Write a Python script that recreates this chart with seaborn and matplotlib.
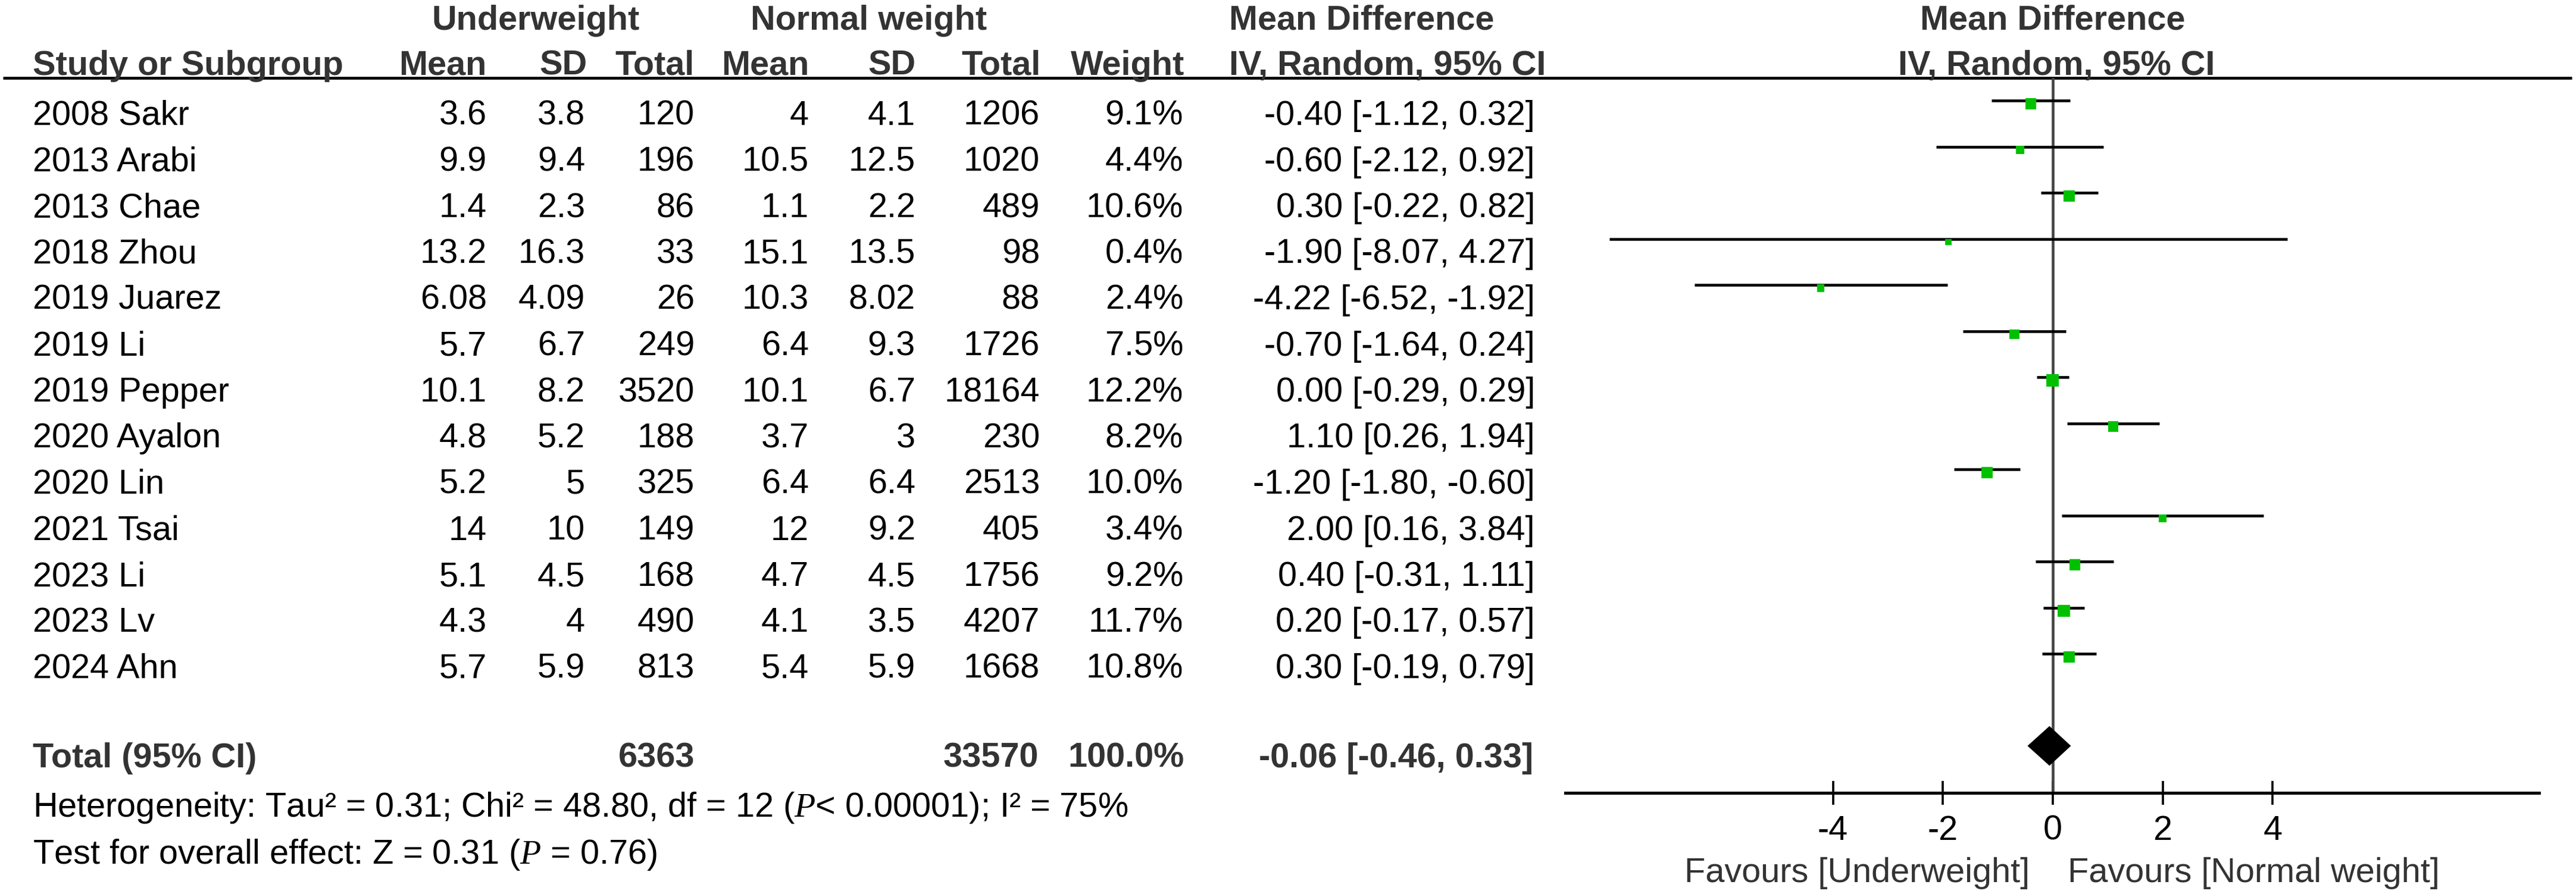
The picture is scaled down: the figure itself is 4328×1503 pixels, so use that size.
import numpy as np
import pandas as pd
import seaborn as sns
import matplotlib.pyplot as plt

# study rows
studies = ['2008 Sakr', '2013 Arabi', '2013 Chae', '2018 Zhou', '2019 Juarez', '2019 Li',
           '2019 Pepper', '2020 Ayalon', '2020 Lin', '2021 Tsai', '2023 Li', '2023 Lv', '2024 Ahn']
uw_mean = ['3.6', '9.9', '1.4', '13.2', '6.08', '5.7', '10.1', '4.8', '5.2', '14', '5.1', '4.3', '5.7']
uw_sd = ['3.8', '9.4', '2.3', '16.3', '4.09', '6.7', '8.2', '5.2', '5', '10', '4.5', '4', '5.9']
uw_total = [120, 196, 86, 33, 26, 249, 3520, 188, 325, 149, 168, 490, 813]
nw_mean = ['4', '10.5', '1.1', '15.1', '10.3', '6.4', '10.1', '3.7', '6.4', '12', '4.7', '4.1', '5.4']
nw_sd = ['4.1', '12.5', '2.2', '13.5', '8.02', '9.3', '6.7', '3', '6.4', '9.2', '4.5', '3.5', '5.9']
nw_total = [1206, 1020, 489, 98, 88, 1726, 18164, 230, 2513, 405, 1756, 4207, 1668]
weight = [9.1, 4.4, 10.6, 0.4, 2.4, 7.5, 12.2, 8.2, 10.0, 3.4, 9.2, 11.7, 10.8]
md = [-0.40, -0.60, 0.30, -1.90, -4.22, -0.70, 0.00, 1.10, -1.20, 2.00, 0.40, 0.20, 0.30]
ci_lo = [-1.12, -2.12, -0.22, -8.07, -6.52, -1.64, -0.29, 0.26, -1.80, 0.16, -0.31, -0.17, -0.19]
ci_hi = [0.32, 0.92, 0.82, 4.27, -1.92, 0.24, 0.29, 1.94, -0.60, 3.84, 1.11, 0.57, 0.79]

# pooled result
total_uw = 6363
total_nw = 33570
total_weight = 100.0
total_md = -0.06
total_lo = -0.46
total_hi = 0.33
het_text = 'Heterogeneity: Tau² = 0.31; Chi² = 48.80, df = 12 ($P$< 0.00001); I² = 75%'
overall_text = 'Test for overall effect: Z = 0.31 ($P$ = 0.76)'
ticks = [-4, -2, 0, 2, 4]
fav_left = 'Favours [Underweight]'
fav_right = 'Favours [Normal weight]'

sns.set_theme(style='white')
plt.rcParams['font.family'] = ['Liberation Sans', 'DejaVu Sans']
plt.rcParams['mathtext.fontset'] = 'custom'
plt.rcParams['mathtext.it'] = 'Liberation Serif:italic'
plt.rcParams['mathtext.rm'] = 'Liberation Sans'

FS = 41.5
GREY = '#333333'
W, H = 4328, 1503

fig = plt.figure(figsize=(W / 100, H / 100), dpi=100)
fig.patch.set_facecolor('white')

# table area in pixel coordinates
tab = fig.add_axes([0, 0, 1, 1])
tab.set_xlim(0, W)
tab.set_ylim(H, 0)
tab.axis('off')

# forest plot axes
top_px, axis_px = 131, 1333
left_px, right_px = 2630, 4266
ax = fig.add_axes([left_px / W, 1 - axis_px / H, (right_px - left_px) / W, (axis_px - top_px) / H])
ax.patch.set_alpha(0)

row0_px, row_step = 169, 77.5
ax.set_ylim((axis_px - row0_px) / row_step, (top_px - row0_px) / row_step)
ax.set_xlim(-8.87, 8.85)

df = pd.DataFrame({'study': studies, 'md': md, 'lo': ci_lo, 'hi': ci_hi, 'weight': weight})
df['row'] = np.arange(len(df))

# header text
hdr = dict(fontsize=FS, fontweight='bold', color=GREY, va='baseline')
tab.text(900, 50, 'Underweight', ha='center', **hdr)
tab.text(1460, 50, 'Normal weight', ha='center', **hdr)
tab.text(2065, 50, 'Mean Difference', ha='left', **hdr)
tab.text(3449, 50, 'Mean Difference', ha='center', **hdr)
tab.text(55, 126, 'Study or Subgroup', ha='left', **hdr)
for x, lab in [(818, 'Mean'), (986, 'SD'), (1167, 'Total'), (1359, 'Mean'),
               (1538, 'SD'), (1749, 'Total'), (1990, 'Weight')]:
    tab.text(x, 126, lab, ha='right', **hdr)
tab.text(2065, 126, 'IV, Random, 95% CI', ha='left', **hdr)
tab.text(3455, 126, 'IV, Random, 95% CI', ha='center', **hdr)
tab.plot([5, 4321], [top_px, top_px], color='black', lw=3.4, solid_capstyle='butt')

# study rows
cell = dict(fontsize=FS, color='black', va='baseline')
for i, r in df.iterrows():
    yb = 210 + row_step * i
    tab.text(55, yb, r['study'], ha='left', **cell)
    vals = [uw_mean[i], uw_sd[i], str(uw_total[i]), nw_mean[i], nw_sd[i],
            str(nw_total[i]), f"{r['weight']:.1f}%",
            f"{r['md']:.2f} [{r['lo']:.2f}, {r['hi']:.2f}]"]
    for x, v in zip([818, 983, 1167, 1359, 1538, 1747, 1988, 2579], vals):
        tab.text(x, yb, v, ha='right', **cell)

# total row
tb = 1290
tot = dict(fontsize=FS, fontweight='bold', color=GREY, va='baseline')
tab.text(55, tb, 'Total (95% CI)', ha='left', **tot)
tab.text(1167, tb, str(total_uw), ha='right', **tot)
tab.text(1745, tb, str(total_nw), ha='right', **tot)
tab.text(1990, tb, f'{total_weight:.1f}%', ha='right', **tot)
tab.text(2576, tb, f'{total_md:.2f} [{total_lo:.2f}, {total_hi:.2f}]', ha='right', **tot)

tab.text(55, 1373, het_text, ha='left', **cell)
tab.text(55, 1452, overall_text, ha='left', **cell)

tab.text(3410, 1483, fav_left, ha='right', fontsize=FS, color=GREY, va='baseline')
tab.text(3474, 1483, fav_right, ha='left', fontsize=FS, color=GREY, va='baseline')

# forest marks
ax.axvline(0, color='#444444', lw=3.3, zorder=1)
ax.hlines(df['row'], df['lo'], df['hi'], color='black', lw=3.3, zorder=2)
side_pt = (10 + 0.9 * df['weight']) * 0.72
sns.scatterplot(x=df['md'], y=df['row'] + 0.07, marker='s', s=side_pt ** 2,
                color='#00c000', linewidth=0, legend=False, ax=ax, zorder=3)
trow = len(df) + 1
dh = 0.43
ax.fill([total_lo, total_md, total_hi, total_md], [trow, trow - dh, trow, trow + dh],
        color='black', lw=0, zorder=4)

for s in ['top', 'left', 'right']:
    ax.spines[s].set_visible(False)
ax.spines['bottom'].set_color('black')
ax.spines['bottom'].set_linewidth(3.6)
ax.set_xticks(ticks)
ax.set_xticklabels([str(t) for t in ticks])
ax.set_yticks([])
ax.tick_params(axis='x', bottom=True, direction='inout', length=29, width=2.6,
               pad=12, labelsize=FS, colors='black')
ax.set_xlabel('')
ax.set_ylabel('')
ax.grid(False)

fig.savefig('out.png', dpi=100, facecolor='white')
